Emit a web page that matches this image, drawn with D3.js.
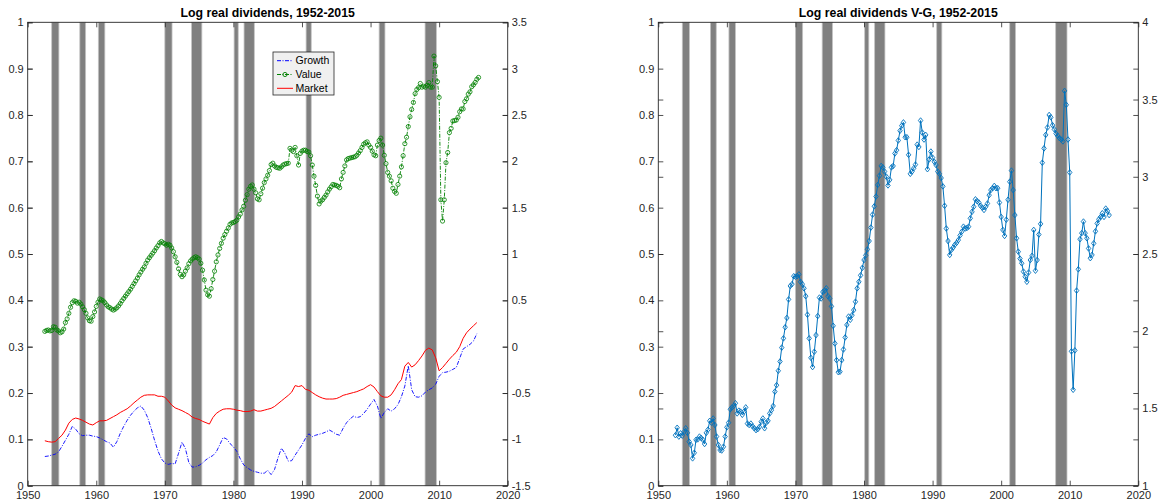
<!DOCTYPE html>
<html>
<head>
<meta charset="utf-8">
<script src="https://cdn.jsdelivr.net/npm/d3@7/dist/d3.min.js"></script>
<style>
  body { margin: 0; background: #fff; }
  text { font-family: "Liberation Sans", Arial, Helvetica, sans-serif; }
</style>
</head>
<body>
<svg id="chart" width="1159" height="503"></svg>
<script>
// ---------------------------------------------------------------
// Data
// ---------------------------------------------------------------
// Growth and Market dividends: half-yearly, starting 1952.5
const lineSeriesStart = 1952.5;
const lineSeriesStep = 0.5;

// Growth portfolio, left axis
const growth = [
  0.063, 0.064, 0.066, 0.068, 0.073, 0.085, 0.098, 0.111, 0.128, 0.122,
  0.112, 0.108, 0.109, 0.109, 0.107, 0.106, 0.103, 0.099, 0.095, 0.092,
  0.083, 0.095, 0.113, 0.128, 0.141, 0.152, 0.161, 0.168, 0.172, 0.163,
  0.147, 0.124, 0.098, 0.075, 0.058, 0.049, 0.046, 0.048, 0.047, 0.070,
  0.094, 0.080, 0.050, 0.040, 0.041, 0.044, 0.049, 0.056, 0.061, 0.065,
  0.073, 0.088, 0.104, 0.101, 0.091, 0.084, 0.074, 0.058, 0.045, 0.039,
  0.034, 0.031, 0.029, 0.027, 0.027, 0.033, 0.024, 0.035, 0.060, 0.081,
  0.070, 0.053, 0.054, 0.066, 0.077, 0.088, 0.102, 0.112, 0.106, 0.109,
  0.111, 0.113, 0.116, 0.120, 0.116, 0.111, 0.109, 0.124, 0.136, 0.144,
  0.150, 0.147, 0.149, 0.156, 0.165, 0.176, 0.186, 0.172, 0.145, 0.158,
  0.166, 0.161, 0.166, 0.175, 0.192, 0.215, 0.259, 0.207, 0.192, 0.191,
  0.194, 0.202, 0.207, 0.211, 0.219, 0.236, 0.244, 0.245, 0.247, 0.251,
  0.255, 0.275, 0.295, 0.300, 0.305, 0.312, 0.328
];

// Market, left axis
const market = [
  0.097, 0.095, 0.094, 0.095, 0.102, 0.109, 0.120, 0.135, 0.143, 0.146,
  0.144, 0.141, 0.137, 0.133, 0.131, 0.136, 0.140, 0.140, 0.141, 0.145,
  0.149, 0.153, 0.158, 0.162, 0.166, 0.172, 0.179, 0.185, 0.191, 0.195,
  0.196, 0.196, 0.196, 0.193, 0.193, 0.191, 0.183, 0.174, 0.168, 0.165,
  0.162, 0.158, 0.154, 0.148, 0.145, 0.143, 0.139, 0.136, 0.133, 0.147,
  0.156, 0.161, 0.165, 0.166, 0.166, 0.165, 0.163, 0.162, 0.160, 0.160,
  0.161, 0.164, 0.161, 0.161, 0.163, 0.165, 0.167, 0.171, 0.177, 0.183,
  0.189, 0.195, 0.202, 0.216, 0.214, 0.216, 0.208, 0.206, 0.201, 0.196,
  0.192, 0.189, 0.187, 0.187, 0.187, 0.188, 0.191, 0.195, 0.197, 0.199,
  0.201, 0.203, 0.206, 0.209, 0.214, 0.218, 0.213, 0.203, 0.194, 0.191,
  0.191, 0.196, 0.207, 0.220, 0.229, 0.258, 0.266, 0.256, 0.261, 0.270,
  0.280, 0.292, 0.297, 0.293, 0.276, 0.248, 0.255, 0.264, 0.273, 0.281,
  0.288, 0.300, 0.318, 0.330, 0.338, 0.345, 0.352
];

// Value portfolio: quarterly, starting 1952.5, right axis
const valueStart = 1952.5;
const valueStep = 0.25;
const value = [
  0.165, 0.175, 0.18, 0.17, 0.175, 0.215, 0.21, 0.18, 0.17, 0.15,
  0.16, 0.19, 0.26, 0.30, 0.36, 0.425, 0.475, 0.495, 0.49, 0.47,
  0.48, 0.46, 0.43, 0.40, 0.36, 0.31, 0.28, 0.275, 0.325, 0.375,
  0.435, 0.48, 0.515, 0.505, 0.495, 0.475, 0.45, 0.43, 0.42, 0.405,
  0.395, 0.405, 0.42, 0.44, 0.465, 0.495, 0.52, 0.545, 0.57, 0.595,
  0.62, 0.65, 0.68, 0.71, 0.74, 0.775, 0.805, 0.835, 0.86, 0.90,
  0.935, 0.96, 0.985, 1.01, 1.035, 1.065, 1.09, 1.12, 1.135, 1.12,
  1.11, 1.095, 1.105, 1.095, 1.065, 1.025, 0.97, 0.91, 0.84, 0.78,
  0.755, 0.775, 0.815, 0.85, 0.895, 0.925, 0.945, 0.96, 0.97, 0.96,
  0.945, 0.90, 0.825, 0.72, 0.61, 0.56, 0.545, 0.625, 0.725, 0.815,
  0.915, 0.99, 1.06, 1.115, 1.17, 1.21, 1.245, 1.28, 1.32, 1.335,
  1.34, 1.35, 1.365, 1.40, 1.43, 1.475, 1.515, 1.58, 1.64, 1.70,
  1.73, 1.745, 1.70, 1.66, 1.595, 1.585, 1.65, 1.71, 1.77, 1.81,
  1.85, 1.90, 1.965, 1.98, 1.95, 1.935, 1.93, 1.925, 1.94, 1.96,
  1.97, 1.975, 1.98, 2.14, 2.12, 2.105, 2.15, 2.06, 1.96, 2.085,
  2.11, 2.12, 2.12, 2.105, 2.10, 2.06, 1.96, 1.84, 1.74, 1.625,
  1.54, 1.57, 1.585, 1.61, 1.635, 1.67, 1.70, 1.725, 1.75, 1.745,
  1.74, 1.73, 1.715, 1.81, 1.88, 1.95, 2.015, 2.03, 2.035, 2.04,
  2.045, 2.05, 2.065, 2.09, 2.115, 2.15, 2.185, 2.20, 2.21, 2.175,
  2.15, 2.11, 2.07, 2.06, 2.175, 2.225, 2.25, 2.175, 2.065, 1.975,
  1.88, 1.84, 1.79, 1.71, 1.675, 1.655, 1.75, 1.84, 1.94, 2.06,
  2.19, 2.26, 2.375, 2.48, 2.56, 2.635, 2.73, 2.775, 2.795, 2.84,
  2.80, 2.81, 2.80, 2.82, 2.85, 2.80, 2.80, 3.135, 3.03, 2.86,
  2.69, 1.585, 1.355, 1.585, 1.985, 2.095, 2.31, 2.355, 2.435, 2.44,
  2.445, 2.475, 2.535, 2.565, 2.565, 2.645, 2.675, 2.725, 2.75, 2.805,
  2.825, 2.85, 2.885, 2.905
];

// Value minus growth: quarterly, starting 1952.5, left axis
const vgStart = 1952.5;
const vgStep = 0.25;
const valueMinusGrowth = [
  0.109, 0.125, 0.106, 0.113, 0.108, 0.116, 0.124, 0.114, 0.095, 0.088,
  0.059, 0.071, 0.099, 0.100, 0.106, 0.103, 0.099, 0.090, 0.114, 0.121,
  0.140, 0.136, 0.145, 0.131, 0.106, 0.088, 0.077, 0.076, 0.084, 0.106,
  0.126, 0.136, 0.165, 0.169, 0.172, 0.178, 0.156, 0.162, 0.160, 0.153,
  0.160, 0.169, 0.134, 0.131, 0.134, 0.128, 0.124, 0.120, 0.122, 0.127,
  0.138, 0.145, 0.124, 0.136, 0.140, 0.156, 0.163, 0.172, 0.203, 0.217,
  0.248, 0.268, 0.298, 0.318, 0.342, 0.362, 0.402, 0.431, 0.435, 0.452,
  0.451, 0.452, 0.456, 0.440, 0.435, 0.426, 0.409, 0.369, 0.318, 0.276,
  0.256, 0.289, 0.325, 0.366, 0.406, 0.404, 0.418, 0.421, 0.426, 0.409,
  0.404, 0.387, 0.345, 0.307, 0.271, 0.245, 0.246, 0.271, 0.294, 0.320,
  0.347, 0.365, 0.358, 0.368, 0.379, 0.397, 0.426, 0.440, 0.454, 0.470,
  0.487, 0.497, 0.510, 0.528, 0.557, 0.585, 0.603, 0.624, 0.649, 0.669,
  0.690, 0.687, 0.678, 0.667, 0.648, 0.660, 0.687, 0.690, 0.717, 0.724,
  0.745, 0.766, 0.777, 0.784, 0.752, 0.752, 0.714, 0.673, 0.678, 0.685,
  0.693, 0.736, 0.731, 0.788, 0.762, 0.747, 0.757, 0.683, 0.704, 0.721,
  0.708, 0.699, 0.692, 0.678, 0.673, 0.664, 0.646, 0.604, 0.555, 0.528,
  0.498, 0.509, 0.514, 0.520, 0.524, 0.530, 0.540, 0.548, 0.559, 0.555,
  0.556, 0.559, 0.577, 0.591, 0.602, 0.618, 0.614, 0.611, 0.604, 0.600,
  0.595, 0.602, 0.609, 0.627, 0.638, 0.642, 0.647, 0.642, 0.642, 0.611,
  0.580, 0.552, 0.539, 0.574, 0.617, 0.656, 0.680, 0.638, 0.584, 0.534,
  0.505, 0.490, 0.480, 0.462, 0.451, 0.440, 0.460, 0.487, 0.496, 0.552,
  0.464, 0.487, 0.542, 0.565, 0.697, 0.728, 0.757, 0.773, 0.800, 0.795,
  0.778, 0.769, 0.760, 0.755, 0.750, 0.747, 0.743, 0.852, 0.822, 0.747,
  0.676, 0.290, 0.207, 0.292, 0.421, 0.467, 0.532, 0.545, 0.570, 0.545,
  0.534, 0.512, 0.491, 0.498, 0.523, 0.549, 0.566, 0.575, 0.580, 0.588,
  0.580, 0.598, 0.593, 0.584
];

// NBER recession periods (start, end), in years
const recessions = [
  [1953.5, 1954.55], [1957.6, 1958.45], [1960.3, 1961.25],
  [1970.0, 1971.05], [1973.9, 1975.4], [1980.1, 1980.7],
  [1981.55, 1983.05], [1990.6, 1991.35], [2001.25, 2002.1],
  [2007.95, 2009.6]
];

// Axis ticks
const yearTicks = [1950, 1960, 1970, 1980, 1990, 2000, 2010, 2020];
const leftTicks = [0, 0.1, 0.2, 0.3, 0.4, 0.5, 0.6, 0.7, 0.8, 0.9, 1];
const rightTicksLevels = [-1.5, -1, -0.5, 0, 0.5, 1, 1.5, 2, 2.5, 3, 3.5];
const rightTicksVG = [1, 1.5, 2, 2.5, 3, 3.5, 4];

const legendLabels = ["Growth", "Value", "Market"];
const titles = ["Log real dividends, 1952-2015", "Log real dividends V-G, 1952-2015"];

// ---------------------------------------------------------------
// Layout and style
// ---------------------------------------------------------------
const AXIS_COLOR = "#262626";
const TICK_LEN = 5;
const FONT_SIZE = 11;
const TITLE_SIZE = 12.3;
const plotTop = 22.3, plotBottom = 485.7, plotWidth = 480;
const panelLefts = [27.7, 658.3];
const DASH_DOT = "4,1.5,1,1.5";

const svg = d3.select("#chart");

const withDates = (arr, start, step) => arr.map((v, i) => ({ t: start + i * step, v }));

function drawPanel(x0, title, rightDomain, rightTicks) {
  const g = svg.append("g");
  const x = d3.scaleLinear().domain([1950, 2020]).range([x0, x0 + plotWidth]);
  const yL = d3.scaleLinear().domain([0, 1]).range([plotBottom, plotTop]);
  const yR = d3.scaleLinear().domain(rightDomain).range([plotBottom, plotTop]);

  // Recession shading
  g.append("g").selectAll("rect").data(recessions).join("rect")
    .attr("x", d => x(d[0]))
    .attr("y", plotTop)
    .attr("width", d => x(d[1]) - x(d[0]))
    .attr("height", plotBottom - plotTop)
    .attr("fill", "#808080")
    .attr("stroke", "#c4c4c4")
    .attr("stroke-width", 0.8);

  const marks = g.append("g");
  const axes = g.append("g");

  const styleAxis = sel => {
    sel.select(".domain").remove();
    sel.selectAll("line").attr("stroke", AXIS_COLOR).attr("stroke-width", 0.8);
    sel.selectAll("text").attr("fill", AXIS_COLOR)
      .attr("font-size", FONT_SIZE)
      .attr("font-family", '"Liberation Sans", Arial, Helvetica, sans-serif');
    sel.attr("font-size", null).attr("font-family", null);
  };

  // Bottom and top year ticks (inward)
  axes.append("g").attr("transform", `translate(0,${plotBottom})`)
    .call(d3.axisBottom(x).tickValues(yearTicks).tickFormat(d3.format("d"))
      .tickSize(-TICK_LEN).tickPadding(6))
    .call(styleAxis);
  axes.append("g").attr("transform", `translate(0,${plotTop})`)
    .call(d3.axisTop(x).tickValues(yearTicks).tickFormat("").tickSize(-TICK_LEN))
    .call(styleAxis);

  // Left edge: left-axis labels + mirrored right-axis ticks
  axes.append("g").attr("transform", `translate(${x0},0)`)
    .call(d3.axisLeft(yL).tickValues(leftTicks).tickFormat(d => String(d))
      .tickSize(-TICK_LEN).tickPadding(4))
    .call(styleAxis);
  axes.append("g").attr("transform", `translate(${x0},0)`)
    .call(d3.axisRight(yR).tickValues(rightTicks).tickFormat("").tickSize(TICK_LEN))
    .call(styleAxis);

  // Right edge: right-axis labels + mirrored left-axis ticks
  axes.append("g").attr("transform", `translate(${x0 + plotWidth},0)`)
    .call(d3.axisRight(yR).tickValues(rightTicks).tickFormat(d => String(d))
      .tickSize(-TICK_LEN).tickPadding(4))
    .call(styleAxis);
  axes.append("g").attr("transform", `translate(${x0 + plotWidth},0)`)
    .call(d3.axisLeft(yL).tickValues(leftTicks).tickFormat("").tickSize(TICK_LEN))
    .call(styleAxis);

  // Box
  axes.append("rect")
    .attr("x", x0).attr("y", plotTop)
    .attr("width", plotWidth).attr("height", plotBottom - plotTop)
    .attr("fill", "none").attr("stroke", AXIS_COLOR).attr("stroke-width", 0.9);

  // Title
  g.append("text")
    .attr("x", x0 + plotWidth / 2).attr("y", 16.5)
    .attr("text-anchor", "middle")
    .attr("font-size", TITLE_SIZE).attr("font-weight", "bold")
    .attr("fill", "#000")
    .text(title);

  return { x, yL, yR, marks, g };
}

// ---------------------------------------------------------------
// Left panel: Growth, Value, Market
// ---------------------------------------------------------------
const left = drawPanel(panelLefts[0], titles[0], [-1.5, 3.5], rightTicksLevels);
{
  const { x, yL, yR, marks } = left;
  const gData = withDates(growth, lineSeriesStart, lineSeriesStep);
  const mData = withDates(market, lineSeriesStart, lineSeriesStep);
  const vData = withDates(value, valueStart, valueStep);

  const lineL = d3.line().x(d => x(d.t)).y(d => yL(d.v));
  const lineR = d3.line().x(d => x(d.t)).y(d => yR(d.v));

  marks.append("path").datum(vData)
    .attr("d", lineR).attr("fill", "none")
    .attr("stroke", "#008000").attr("stroke-width", 0.9)
    .attr("stroke-dasharray", DASH_DOT);
  marks.append("g").selectAll("circle").data(vData).join("circle")
    .attr("cx", d => x(d.t)).attr("cy", d => yR(d.v)).attr("r", 2.1)
    .attr("fill", "none").attr("stroke", "#008000").attr("stroke-width", 0.8);

  marks.append("path").datum(gData)
    .attr("d", lineL).attr("fill", "none")
    .attr("stroke", "#0000ff").attr("stroke-width", 0.9)
    .attr("stroke-dasharray", DASH_DOT);

  marks.append("path").datum(mData)
    .attr("d", lineL).attr("fill", "none")
    .attr("stroke", "#ff0000").attr("stroke-width", 1);

  // Legend
  const lg = left.g.append("g").attr("transform", "translate(273,52)");
  lg.append("rect").attr("width", 61).attr("height", 43)
    .attr("fill", "#f0f0f0").attr("stroke", AXIS_COLOR).attr("stroke-width", 0.8);
  const styles = [
    { c: "#0000ff", dash: DASH_DOT, marker: false },
    { c: "#008000", dash: DASH_DOT, marker: true },
    { c: "#ff0000", dash: null, marker: false }
  ];
  legendLabels.forEach((lab, i) => {
    const cy = 8.7 + i * 13.8;
    lg.append("line").attr("x1", 4).attr("x2", 20).attr("y1", cy).attr("y2", cy)
      .attr("stroke", styles[i].c).attr("stroke-width", 1)
      .attr("stroke-dasharray", styles[i].dash);
    if (styles[i].marker) {
      lg.append("circle").attr("cx", 12).attr("cy", cy).attr("r", 2.1)
        .attr("fill", "none").attr("stroke", styles[i].c).attr("stroke-width", 0.9);
    }
    lg.append("text").attr("x", 22.5).attr("y", cy).attr("dy", "0.35em")
      .attr("font-size", 10.5).attr("fill", "#000").text(lab);
  });
}

// ---------------------------------------------------------------
// Right panel: Value minus Growth
// ---------------------------------------------------------------
const right = drawPanel(panelLefts[1], titles[1], [1, 4], rightTicksVG);
{
  const { x, yL, marks } = right;
  const data = withDates(valueMinusGrowth, vgStart, vgStep);
  marks.append("path").datum(data)
    .attr("d", d3.line().x(d => x(d.t)).y(d => yL(d.v)))
    .attr("fill", "none").attr("stroke", "#0072BD").attr("stroke-width", 1);
  marks.append("g").selectAll("path").data(data).join("path")
    .attr("transform", d => `translate(${x(d.t)},${yL(d.v)})`)
    .attr("d", "M0,-2.8L2.2,0L0,2.8L-2.2,0Z")
    .attr("fill", "none").attr("stroke", "#0072BD").attr("stroke-width", 0.9);
}
</script>
</body>
</html>
